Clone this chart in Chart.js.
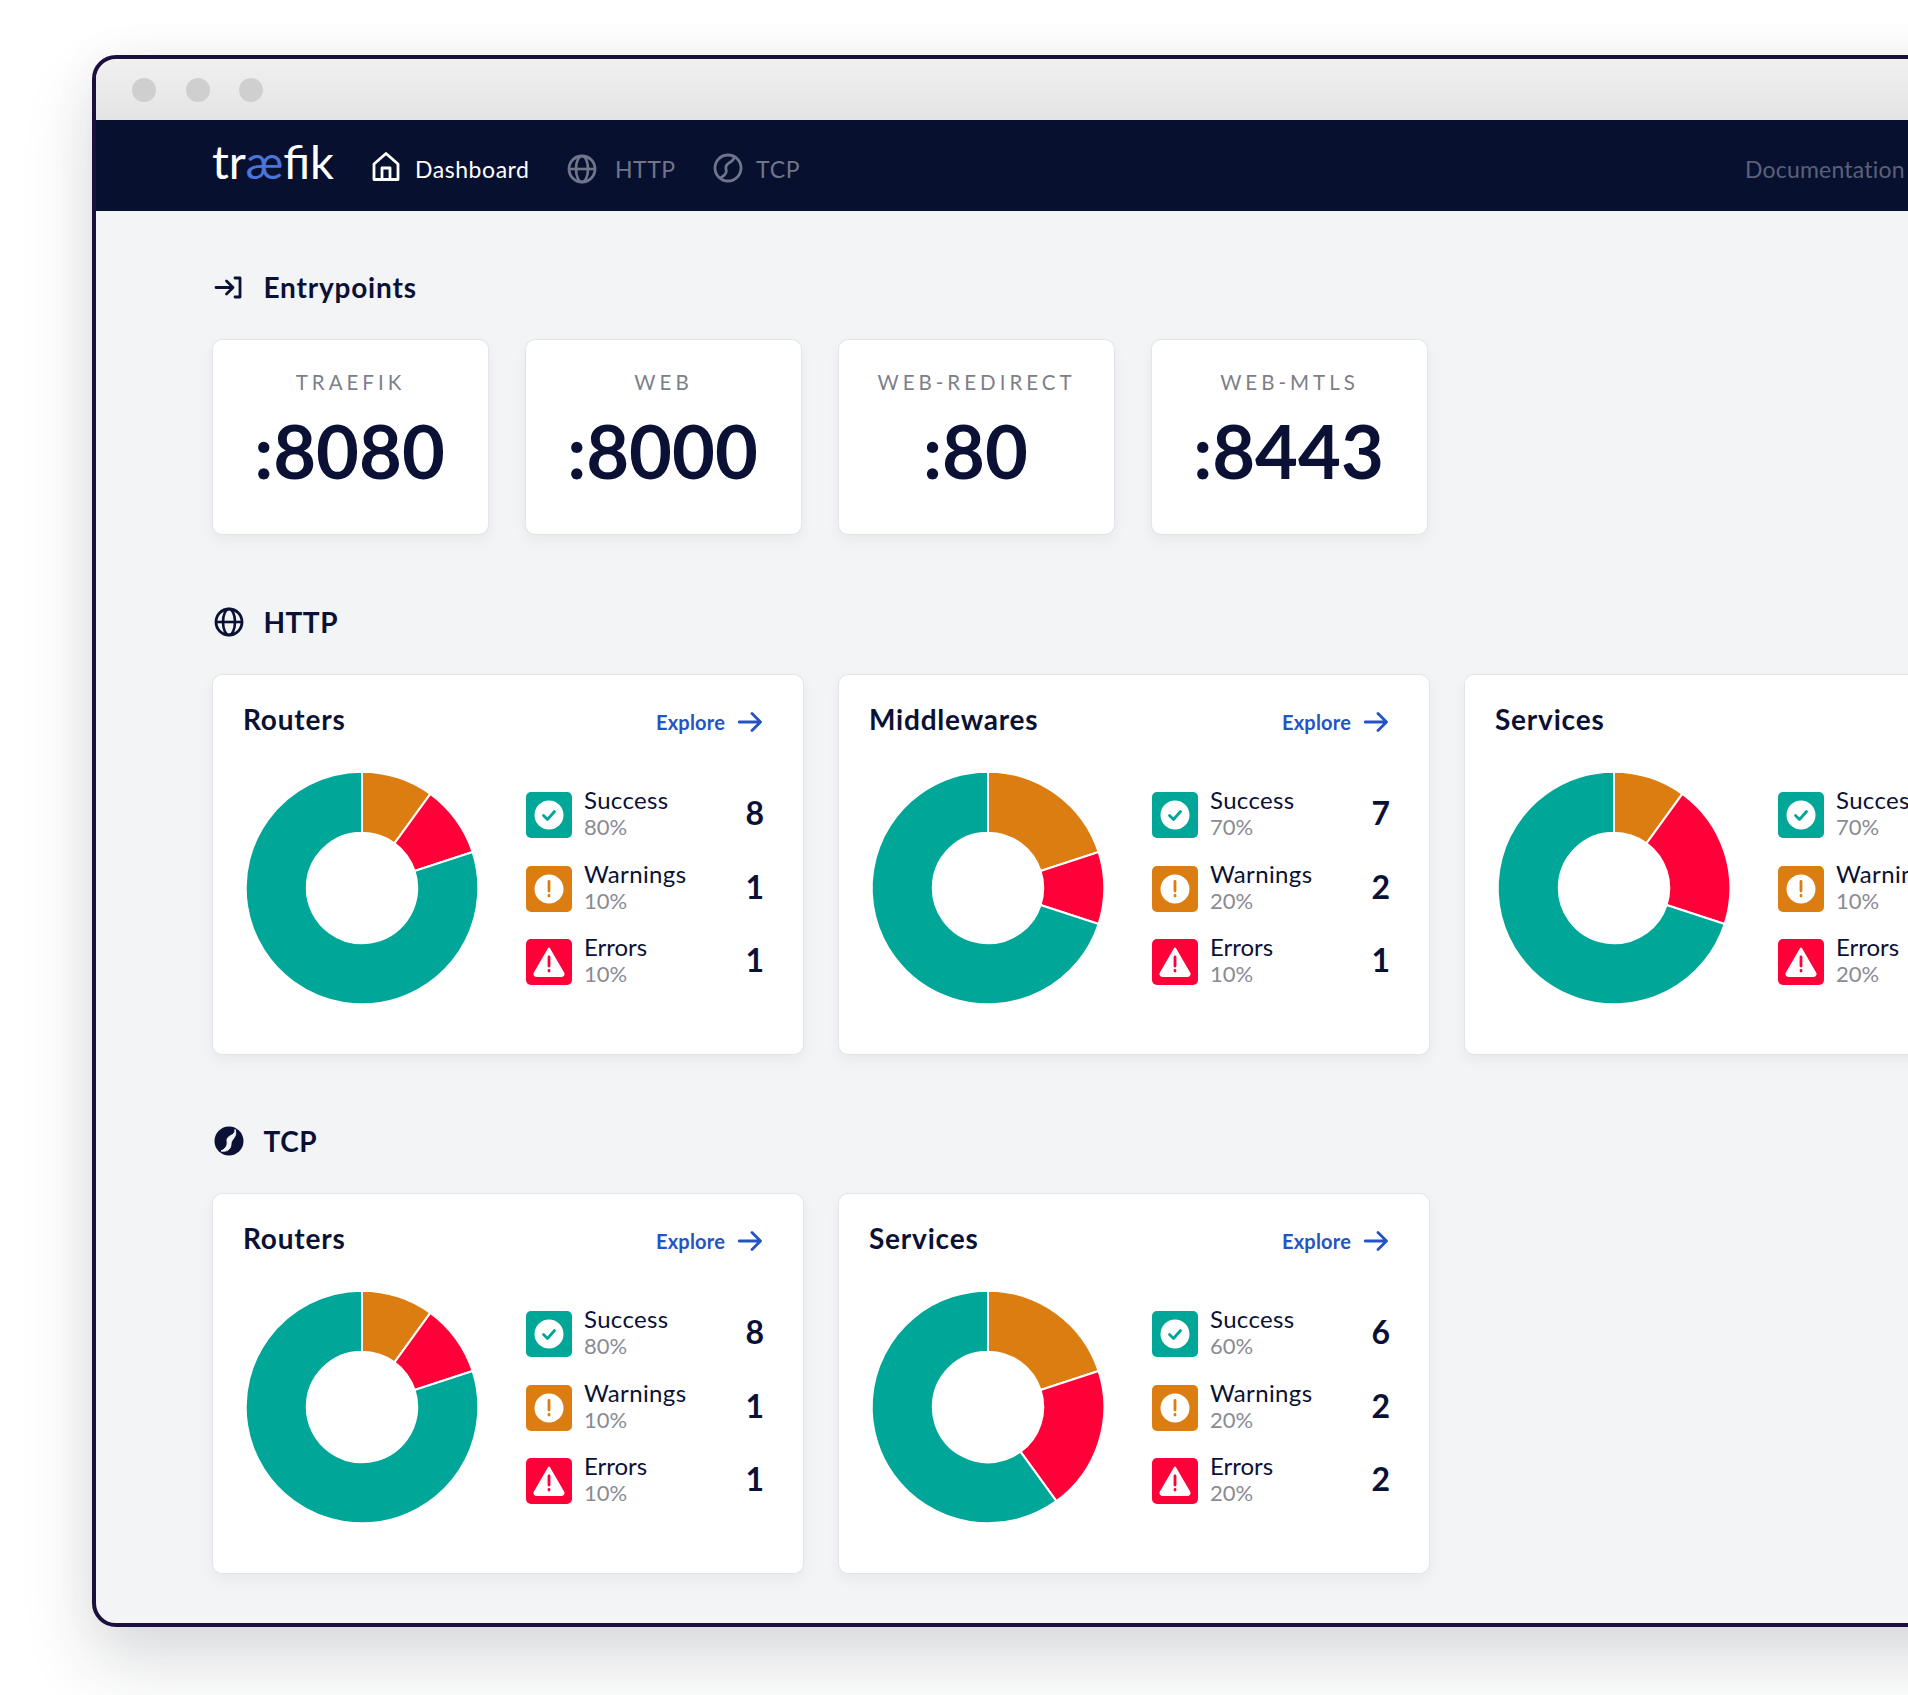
<!DOCTYPE html>
<html>
<head>
<meta charset="utf-8">
<title>Traefik dashboard</title>
<script src="https://cdn.jsdelivr.net/npm/chart.js@4"></script>
<style>
  html, body { margin: 0; width: 1908px; height: 1695px; overflow: hidden; background: #fff; font-family: Lato, sans-serif; color: #0b1134; }
  .abs, .win, .card, .txt, svg, canvas { position: absolute; }
  .win { left: 92px; top: 55px; width: 1900px; height: 1572px; box-sizing: border-box; border: 4.5px solid #1d0f3d; border-radius: 24px; background: #f2f4f6; box-shadow: 0 34px 70px rgba(30,35,50,.16), 0 0 50px rgba(30,35,50,.04); }
  .titlebar { position: absolute; left: 96px; top: 60px; width: 1812px; height: 60px; border-radius: 20px 0 0 0; background: linear-gradient(#f1f0f1, #e4e4e4); }
  .dot { position: absolute; top: 78px; width: 24px; height: 24px; border-radius: 50%; background: #cfcfcf; }
  .nav { position: absolute; left: 96px; top: 120px; width: 1812px; height: 91px; background: #081030; }
  .txt { white-space: nowrap; line-height: 40px; height: 40px; }
  .card { background: #fff; border-radius: 9px; box-shadow: 0 0 0 1px #e4e5e8, 0 6px 14px rgba(30,35,50,.06); }
  .box { position: absolute; left: 313px; width: 46px; height: 46px; border-radius: 5px; }
</style>
</head>
<body>
<div class="win"></div>
<div class="titlebar"></div>
<div class="dot" style="left:132px"></div>
<div class="dot" style="left:186px"></div>
<div class="dot" style="left:239px"></div>
<div class="nav"></div>
<div id="page"></div>
<script>
// values
const entryNames = ['TRAEFIK', 'WEB', 'WEB-REDIRECT', 'WEB-MTLS'];
const entryPorts = [':8080', ':8000', ':80', ':8443'];

const cardTitles = ['Routers', 'Middlewares', 'Services', 'Routers', 'Services'];
const successCounts = [8, 7, 7, 8, 6];
const warningCounts = [1, 2, 1, 1, 2];
const errorCounts = [1, 1, 2, 1, 2];

const rowLabels = ['Success', 'Warnings', 'Errors'];
const GREEN = '#00a697', ORANGE = '#db7d11', RED = '#ff0039';
const NAVY = '#0b1134';

const cardX = [213, 839, 1465, 213, 839];
const cardY = [675, 675, 675, 1194, 1194];

const page = document.getElementById('page');

function text(parent, str, x, cy, size, weight, color, extra) {
    const el = document.createElement('div');
    el.className = 'txt';
    el.textContent = str;
    el.style.cssText = `left:${x}px;top:${cy - 20}px;font-size:${size}px;font-weight:${weight};color:${color};${extra || ''}`;
    parent.appendChild(el);
    return el;
}

function svg(parent, x, y, w, h, vb, body) {
    parent.insertAdjacentHTML('beforeend',
        `<svg style="left:${x}px;top:${y}px" width="${w}" height="${h}" viewBox="${vb}" fill="none">${body}</svg>`);
}

const globe = c => `<circle cx="15" cy="15" r="13" stroke="${c}" stroke-width="2.8"/><ellipse cx="15" cy="15" rx="6" ry="13" stroke="${c}" stroke-width="2.6"/><path d="M2 15H28" stroke="${c}" stroke-width="2.6"/>`;
const ball = c => `<circle cx="15" cy="15" r="13" stroke="${c}" stroke-width="2.8"/><path d="M21 3.5C22 10 11 9 13 16C15 22 9 23 7 25.5" stroke="${c}" stroke-width="2.8"/>`;
const arrow = c => `<path d="M1 12H22M14 3.5L22.5 12L14 20.5" stroke="${c}" stroke-width="2.8" stroke-linecap="round" stroke-linejoin="round"/>`;

// nav bar
const logo = text(page, '', 212, 161, 47, 400, '#fff');
logo.innerHTML = 'tr<span style="color:#4a74d8">æ</span>fik';
svg(page, 371, 151, 30, 31, '0 0 30 31', `<path d="M3 13L15 2.5L27 13V28.5H3Z M11 28.5V17H19V28.5" stroke="#fff" stroke-width="2.8" stroke-linejoin="round"/>`);
text(page, 'Dashboard', 415, 169, 23, 400, '#fff', 'letter-spacing:.55px');
svg(page, 567, 154, 30, 30, '0 0 30 30', globe('#70758a'));
text(page, 'HTTP', 615, 169, 23, 400, '#70758a', 'letter-spacing:.5px');
svg(page, 713, 153, 30, 30, '0 0 30 30', ball('#70758a'));
text(page, 'TCP', 756, 169, 23, 400, '#70758a', 'letter-spacing:.8px');
text(page, 'Documentation', 1745, 169, 23, 400, '#5b6078', 'letter-spacing:.2px');

// section headings
svg(page, 214, 275, 28, 25, '0 0 28 25', `<path d="M2 12.5H19M12.5 6L19 12.5L12.5 19M21 3H26V22H21" stroke="${NAVY}" stroke-width="2.8" stroke-linecap="round" stroke-linejoin="round"/>`);
text(page, 'Entrypoints', 263.5, 287, 28, 700, NAVY, 'letter-spacing:.8px');
svg(page, 214, 607, 30, 30, '0 0 30 30', globe(NAVY));
text(page, 'HTTP', 263.5, 622, 28, 700, NAVY, 'letter-spacing:.5px');
svg(page, 214, 1126, 30, 30, '0 0 30 30', `<circle cx="15" cy="15" r="14.5" fill="${NAVY}"/><path d="M21 3.5C22 10 12 9 13 15C14 20 11 23 7 25C12 26 17 24 17 18C17 13 24 11 21 3.5Z" fill="#f2f4f6" stroke="#f2f4f6" stroke-width="1"/>`);
text(page, 'TCP', 263.5, 1141, 28, 700, NAVY, 'letter-spacing:.6px');

// entrypoint cards
entryNames.forEach((name, i) => {
    const card = document.createElement('div');
    card.className = 'card';
    card.style.cssText = `left:${213 + i * 313}px;top:340px;width:275px;height:194px`;
    page.appendChild(card);
    text(card, name, 0, 42, 20.5, 400, '#7d7f88', 'width:275px;text-align:center;letter-spacing:4px');
    text(card, entryPorts[i], -1, 111, 74, 700, NAVY, 'width:275px;text-align:center');
});

const rowIcons = [
    `<circle cx="23" cy="23" r="14.5" fill="#fff"/><path d="M17.5 23.5L21.5 27.5L28.5 19.5" stroke="${GREEN}" stroke-width="2.8" stroke-linecap="round" stroke-linejoin="round"/>`,
    `<circle cx="23" cy="23" r="14.5" fill="#fff"/><path d="M23 15.5V25M23 29.5V30" stroke="${ORANGE}" stroke-width="2.8" stroke-linecap="round"/>`,
    `<path d="M23 9.5L37.5 34.5Q38 37 35 37H11Q8 37 8.5 34.5Z" fill="#fff" stroke="#fff" stroke-width="2" stroke-linejoin="round"/><path d="M23 18V27M23 31.5V32" stroke="${RED}" stroke-width="2.8" stroke-linecap="round"/>`
];
const rowColors = [GREEN, ORANGE, RED];

// donut cards
cardTitles.forEach((title, i) => {
    const card = document.createElement('div');
    card.className = 'card';
    card.style.cssText = `left:${cardX[i]}px;top:${cardY[i]}px;width:${i === 2 ? 600 : 589.5}px;height:379px`;
    page.appendChild(card);

    text(card, title, 30, 44, 28, 700, NAVY, 'letter-spacing:.8px');
    if (i !== 2) {
        text(card, 'Explore', 443, 47, 20, 700, '#2453c4', 'letter-spacing:.2px');
        svg(card, 525, 35, 24, 24, '0 0 24 24', arrow('#2453c4'));
    }

    const counts = [successCounts[i], warningCounts[i], errorCounts[i]];
    const total = counts[0] + counts[1] + counts[2];
    counts.forEach((count, r) => {
        const top = 117 + r * 73.6;
        const box = document.createElement('div');
        box.className = 'box';
        box.style.top = top + 'px';
        box.style.background = rowColors[r];
        box.innerHTML = `<svg width="46" height="46" viewBox="0 0 46 46" fill="none">${rowIcons[r]}</svg>`;
        card.appendChild(box);
        text(card, rowLabels[r], 371, top + 8, 24, 400, NAVY, r === 2 ? '' : 'letter-spacing:.35px');
        text(card, Math.round(count / total * 100) + '%', 371, top + 35, 22, 400, '#8a8b92');
        text(card, String(count), 451, top + 21, 32, 700, NAVY, 'width:100px;text-align:right');
    });

    const canvas = document.createElement('canvas');
    canvas.width = 240;
    canvas.height = 240;
    canvas.style.cssText = 'left:28.5px;top:92.5px;width:240px;height:240px';
    card.appendChild(canvas);
    new Chart(canvas, {
        type: 'doughnut',
        data: {
            labels: [rowLabels[1], rowLabels[2], rowLabels[0]],
            datasets: [{
                data: [warningCounts[i], errorCounts[i], successCounts[i]],
                backgroundColor: [ORANGE, RED, GREEN],
                borderColor: '#fff',
                borderWidth: 2
            }]
        },
        options: {
            responsive: false,
            animation: false,
            cutout: '47.5%',
            layout: { padding: 2.7 },
            plugins: { legend: { display: false }, tooltip: { enabled: false } }
        }
    });
});
</script>
</body>
</html>
